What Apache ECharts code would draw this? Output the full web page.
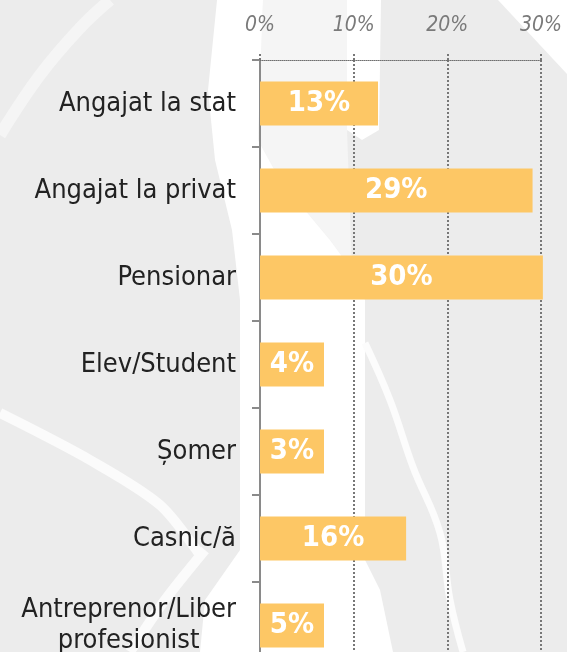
<!DOCTYPE html>
<html>
<head>
<meta charset="utf-8">
<script src="https://cdn.jsdelivr.net/npm/echarts@6/dist/echarts.min.js"></script>
<style>
html,body{margin:0;padding:0;background:#ececec;}
#chart{width:567px;height:652px;}
</style>
</head>
<body>
<div id="chart"></div>
<script>
// Data
const categories = ['Angajat la stat', 'Angajat la privat', 'Pensionar', 'Elev/Student', 'Șomer', 'Casnic/ă', 'Antreprenor/Liber\nprofesionist'];
const values = [12.6, 29.1, 30.2, 4, 3, 15.6, 5];
const axisTicks = [0, 10, 20, 30];

const FONT = "'DejaVu Sans Condensed', 'DejaVu Sans', sans-serif";
const chart = echarts.init(document.getElementById('chart'), null, {renderer: 'canvas'});

const option = {
  backgroundColor: '#ececec',
  animation: false,
  graphic: [
    // decorative background shapes (light map silhouette)
    { type: 'polygon', z: -10, silent: true,
      shape: { points: [[263,0],[347,0],[347,130],[352,270],[330,240],[280,180],[258,140]] },
      style: { fill: '#f5f5f5' } },
    { type: 'polygon', z: -10, silent: true,
      shape: { points: [[217,0],[263,0],[258,140],[280,180],[330,240],[352,270],[365,300],[365,560],[380,590],[393,652],[200,652],[205,600],[240,550],[240,300],[232,230],[215,160],[208,90]] },
      style: { fill: '#ffffff' } },
    { type: 'polygon', z: -10, silent: true,
      shape: { points: [[347,0],[381,0],[379,130],[362,140],[347,130]] },
      style: { fill: '#ffffff' } },
    { type: 'polygon', z: -10, silent: true,
      shape: { points: [[498,0],[567,0],[567,74]] },
      style: { fill: '#ffffff' } },
    { type: 'polyline', z: -10, silent: true,
      shape: { points: [[0,413],[90,460],[160,505],[200,555]], smooth: 0.3 },
      style: { stroke: '#fbfbfb', lineWidth: 10, fill: null } },
    { type: 'polyline', z: -10, silent: true,
      shape: { points: [[205,550],[165,600],[130,652]], smooth: 0.3 },
      style: { stroke: '#fbfbfb', lineWidth: 10, fill: null } },
    { type: 'polyline', z: -10, silent: true,
      shape: { points: [[0,135],[40,75],[80,28],[110,0]], smooth: 0.4 },
      style: { stroke: '#f5f5f5', lineWidth: 12, fill: null } },
    { type: 'polyline', z: -10, silent: true,
      shape: { points: [[365,343],[390,400],[413,467],[440,533],[450,600],[463,652]], smooth: 0.4 },
      style: { stroke: '#fcfcfc', lineWidth: 7, fill: null } }
  ],
  grid: { left: 260, right: 26, top: 60, height: 609, containLabel: false, outerBoundsMode: 'none' },
  xAxis: {
    type: 'value',
    position: 'top',
    min: axisTicks[0],
    max: axisTicks[axisTicks.length - 1],
    interval: axisTicks[1] - axisTicks[0],
    axisLine: { show: true, lineStyle: { color: '#6f6f6f', width: 1, type: [1, 1] } },
    axisTick: { show: true, length: 8, lineStyle: { color: '#777', width: 2, type: [2, 2] } },
    splitLine: { show: true, lineStyle: { color: '#777', width: 2, type: [2, 2] } },
    axisLabel: {
      formatter: '{value}%',
      color: '#7a7a7a',
      fontFamily: FONT,
      fontStyle: 'italic',
      fontSize: 21,
      margin: 24
    }
  },
  yAxis: {
    type: 'category',
    inverse: true,
    data: categories,
    axisLine: { show: true, lineStyle: { color: '#8a8a8a', width: 2 } },
    axisTick: { show: true, length: 8, lineStyle: { color: '#8a8a8a', width: 2 } },
    axisLabel: {
      color: '#222',
      fontFamily: FONT,
      fontSize: 27,
      margin: 24,
      align: 'right',
      formatter: v => {
        const parts = v.split('\n');
        if (parts.length === 1) return '{r|' + v + '}';
        return parts.map(p => '{c|' + p + '}').join('\n');
      },
      rich: {
        r: { fontFamily: FONT, fontSize: 27, color: '#222' },
        c: { fontFamily: FONT, fontSize: 27, color: '#222', align: 'center', lineHeight: 31 }
      }
    }
  },
  series: [{
    type: 'bar',
    data: values,
    barWidth: 44,
    barMinHeight: 64,
    clip: false,
    itemStyle: { color: '#fdc765' },
    label: {
      show: true,
      position: 'inside',
      formatter: p => Math.round(p.value) + '%',
      color: '#ffffff',
      fontFamily: FONT,
      fontWeight: 'bold',
      fontSize: 29
    }
  }]
};
chart.setOption(option);
</script>
</body>
</html>
